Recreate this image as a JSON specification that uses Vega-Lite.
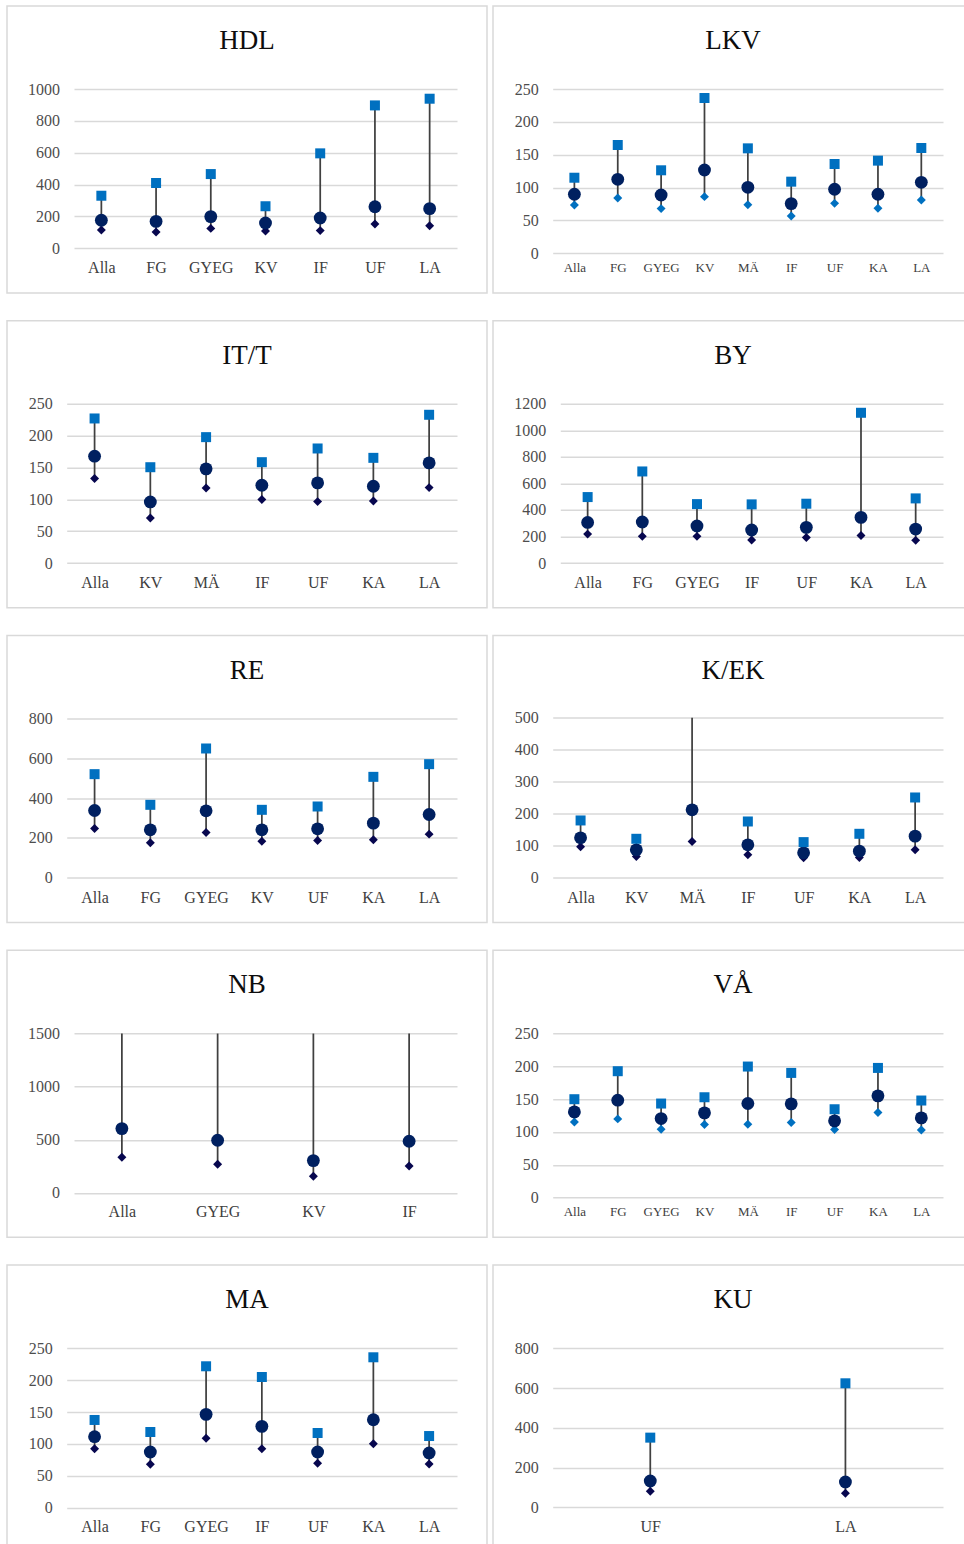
{
"$schema": "https://vega.github.io/schema/vega-lite/v6.json",
"padding": {"left": 6, "top": 5, "right": 0, "bottom": 0},
"background": "white",
"data": {"values": [
{"panel":"HDL","cat":"Alla","low":115,"mid":176,"high":330},
{"panel":"HDL","cat":"FG","low":102,"mid":169,"high":410},
{"panel":"HDL","cat":"GYEG","low":125,"mid":199,"high":466},
{"panel":"HDL","cat":"KV","low":109,"mid":159,"high":264},
{"panel":"HDL","cat":"IF","low":111,"mid":190,"high":596},
{"panel":"HDL","cat":"UF","low":153,"mid":261,"high":897},
{"panel":"HDL","cat":"LA","low":142,"mid":249,"high":939},
{"panel":"LKV","cat":"Alla","low":73.5,"mid":89.8,"high":115},
{"panel":"LKV","cat":"FG","low":84.2,"mid":112.6,"high":164.8},
{"panel":"LKV","cat":"GYEG","low":68,"mid":88.7,"high":126.3},
{"panel":"LKV","cat":"KV","low":86.2,"mid":126.8,"high":236.3},
{"panel":"LKV","cat":"MÄ","low":74,"mid":100.4,"high":159.7},
{"panel":"LKV","cat":"IF","low":56.8,"mid":75.6,"high":109},
{"panel":"LKV","cat":"UF","low":76,"mid":97.4,"high":135.9},
{"panel":"LKV","cat":"KA","low":68.5,"mid":89.8,"high":141},
{"panel":"LKV","cat":"LA","low":81.1,"mid":108,"high":160.2},
{"panel":"IT/T","cat":"Alla","low":132.6,"mid":167.7,"high":226.9},
{"panel":"IT/T","cat":"KV","low":70.8,"mid":95.9,"high":150.4},
{"panel":"IT/T","cat":"MÄ","low":117.9,"mid":147.8,"high":197.6},
{"panel":"IT/T","cat":"IF","low":99.6,"mid":122.1,"high":158.3},
{"panel":"IT/T","cat":"UF","low":96.4,"mid":125.8,"high":179.8},
{"panel":"IT/T","cat":"KA","low":97.5,"mid":120.5,"high":165.1},
{"panel":"IT/T","cat":"LA","low":118.4,"mid":157.2,"high":232.7},
{"panel":"BY","cat":"Alla","low":218,"mid":306,"high":497},
{"panel":"BY","cat":"FG","low":201,"mid":309,"high":690},
{"panel":"BY","cat":"GYEG","low":201,"mid":279,"high":444},
{"panel":"BY","cat":"IF","low":173,"mid":249,"high":442},
{"panel":"BY","cat":"UF","low":193,"mid":269,"high":447},
{"panel":"BY","cat":"KA","low":208,"mid":344,"high":1132},
{"panel":"BY","cat":"LA","low":171,"mid":256,"high":487},
{"panel":"RE","cat":"Alla","low":247.7,"mid":338,"high":520.5},
{"panel":"RE","cat":"FG","low":175.7,"mid":241,"high":366.5},
{"panel":"RE","cat":"GYEG","low":227.6,"mid":336.4,"high":649.4},
{"panel":"RE","cat":"KV","low":184,"mid":241,"high":341.4},
{"panel":"RE","cat":"UF","low":187.4,"mid":246,"high":358.1},
{"panel":"RE","cat":"KA","low":190.8,"mid":274.5,"high":507},
{"panel":"RE","cat":"LA","low":219.2,"mid":318,"high":570.7},
{"panel":"K/EK","cat":"Alla","low":96.9,"mid":125,"high":179.2},
{"panel":"K/EK","cat":"KV","low":66.7,"mid":87.5,"high":121.9},
{"panel":"K/EK","cat":"MÄ","low":113.5,"mid":212.5,"high":560},
{"panel":"K/EK","cat":"IF","low":71.9,"mid":103.1,"high":176},
{"panel":"K/EK","cat":"UF","low":62.5,"mid":78.1,"high":111.5},
{"panel":"K/EK","cat":"KA","low":63.5,"mid":83.3,"high":137.5},
{"panel":"K/EK","cat":"LA","low":87.5,"mid":130.2,"high":251},
{"panel":"NB","cat":"Alla","low":335.8,"mid":605.6,"high":1900},
{"panel":"NB","cat":"GYEG","low":269.9,"mid":495.8,"high":1800},
{"panel":"NB","cat":"KV","low":156.9,"mid":304.4,"high":1700},
{"panel":"NB","cat":"IF","low":254.2,"mid":486.4,"high":1850},
{"panel":"VÅ","cat":"Alla","low":115.3,"mid":130.6,"high":149.9},
{"panel":"VÅ","cat":"FG","low":119.9,"mid":148.4,"high":192.6},
{"panel":"VÅ","cat":"GYEG","low":104.2,"mid":120.4,"high":143.3},
{"panel":"VÅ","cat":"KV","low":111.3,"mid":129.1,"high":152.9},
{"panel":"VÅ","cat":"MÄ","low":111.8,"mid":143.3,"high":199.7},
{"panel":"VÅ","cat":"IF","low":114.3,"mid":142.8,"high":190},
{"panel":"VÅ","cat":"UF","low":103.7,"mid":116.9,"high":134.6},
{"panel":"VÅ","cat":"KA","low":129.6,"mid":155,"high":197.6},
{"panel":"VÅ","cat":"LA","low":103.1,"mid":121.4,"high":147.9},
{"panel":"MA","cat":"Alla","low":92.6,"mid":111.4,"high":137.6},
{"panel":"MA","cat":"FG","low":68,"mid":87.3,"high":118.7},
{"panel":"MA","cat":"GYEG","low":108.8,"mid":146.4,"high":221.8},
{"panel":"MA","cat":"IF","low":92.6,"mid":127.6,"high":205},
{"panel":"MA","cat":"UF","low":69.6,"mid":87.3,"high":117.2},
{"panel":"MA","cat":"KA","low":100.4,"mid":138,"high":235.9},
{"panel":"MA","cat":"LA","low":68.5,"mid":85.8,"high":112.4},
{"panel":"KU","cat":"UF","low":80.5,"mid":132.5,"high":350.5},
{"panel":"KU","cat":"LA","low":70.4,"mid":127.5,"high":623.9}
]},
"spacing": 25.75,
"vconcat": [
{"spacing": 4, "hconcat": [
{"title": "HDL", "width": 480, "height": 287,
 "transform": [{"filter": "datum.panel === 'HDL'"}],
 "encoding": {"x": {"field": "cat", "type": "nominal", "title": null, "scale": {"type": "point", "domain": ["Alla","FG","GYEG","KV","IF","UF","LA"], "range": [67, 450], "padding": 0.5}, "axis": {"labelFontSize": 16, "offset": -25.5}}},
 "layer": [
  {"mark": {"type": "rule", "color": "#404040", "strokeWidth": 1.75},
   "encoding": {"y": {"field": "low", "type": "quantitative", "title": null, "scale": {"domain": [0, 1000], "range": [242.3, 83], "clamp": true, "nice": false, "zero": false}, "axis": {"values": [0,200,400,600,800,1000], "offset": -67, "format": "d"}}, "y2": {"field": "high"}}},
  {"mark": {"type": "point", "shape": "diamond", "size": 80, "color": "#07074f"}, "encoding": {"y": {"field": "low", "type": "quantitative", "title": null}}},
  {"mark": {"type": "point", "shape": "circle", "size": 165, "color": "#002060"}, "encoding": {"y": {"field": "mid", "type": "quantitative", "title": null}}},
  {"transform": [{"filter": "datum.high <= 1000"}], "mark": {"type": "point", "shape": "square", "size": 100, "color": "#0070c0"}, "encoding": {"y": {"field": "high", "type": "quantitative", "title": null}}}
 ]},
{"title": "LKV", "width": 480, "height": 287,
 "transform": [{"filter": "datum.panel === 'LKV'"}],
 "encoding": {"x": {"field": "cat", "type": "nominal", "title": null, "scale": {"type": "point", "domain": ["Alla","FG","GYEG","KV","MÄ","IF","UF","KA","LA"], "range": [59.7, 450], "padding": 0.5}, "axis": {"labelFontSize": 13, "offset": -25.5}}},
 "layer": [
  {"mark": {"type": "rule", "color": "#404040", "strokeWidth": 1.75},
   "encoding": {"y": {"field": "low", "type": "quantitative", "title": null, "scale": {"domain": [0, 250], "range": [247.3, 83], "clamp": true, "nice": false, "zero": false}, "axis": {"values": [0,50,100,150,200,250], "offset": -59.7, "format": "d"}}, "y2": {"field": "high"}}},
  {"mark": {"type": "point", "shape": "diamond", "size": 80, "color": "#0070c0"}, "encoding": {"y": {"field": "low", "type": "quantitative", "title": null}}},
  {"mark": {"type": "point", "shape": "circle", "size": 165, "color": "#002060"}, "encoding": {"y": {"field": "mid", "type": "quantitative", "title": null}}},
  {"transform": [{"filter": "datum.high <= 250"}], "mark": {"type": "point", "shape": "square", "size": 100, "color": "#0070c0"}, "encoding": {"y": {"field": "high", "type": "quantitative", "title": null}}}
 ]}
]},
{"spacing": 4, "hconcat": [
{"title": "IT/T", "width": 480, "height": 287,
 "transform": [{"filter": "datum.panel === 'IT/T'"}],
 "encoding": {"x": {"field": "cat", "type": "nominal", "title": null, "scale": {"type": "point", "domain": ["Alla","KV","MÄ","IF","UF","KA","LA"], "range": [59.7, 450], "padding": 0.5}, "axis": {"labelFontSize": 16, "offset": -25.5}}},
 "layer": [
  {"mark": {"type": "rule", "color": "#404040", "strokeWidth": 1.75},
   "encoding": {"y": {"field": "low", "type": "quantitative", "title": null, "scale": {"domain": [0, 250], "range": [242.3, 83], "clamp": true, "nice": false, "zero": false}, "axis": {"values": [0,50,100,150,200,250], "offset": -59.7, "format": "d"}}, "y2": {"field": "high"}}},
  {"mark": {"type": "point", "shape": "diamond", "size": 80, "color": "#07074f"}, "encoding": {"y": {"field": "low", "type": "quantitative", "title": null}}},
  {"mark": {"type": "point", "shape": "circle", "size": 165, "color": "#002060"}, "encoding": {"y": {"field": "mid", "type": "quantitative", "title": null}}},
  {"transform": [{"filter": "datum.high <= 250"}], "mark": {"type": "point", "shape": "square", "size": 100, "color": "#0070c0"}, "encoding": {"y": {"field": "high", "type": "quantitative", "title": null}}}
 ]},
{"title": "BY", "width": 480, "height": 287,
 "transform": [{"filter": "datum.panel === 'BY'"}],
 "encoding": {"x": {"field": "cat", "type": "nominal", "title": null, "scale": {"type": "point", "domain": ["Alla","FG","GYEG","IF","UF","KA","LA"], "range": [67.3, 450], "padding": 0.5}, "axis": {"labelFontSize": 16, "offset": -25.5}}},
 "layer": [
  {"mark": {"type": "rule", "color": "#404040", "strokeWidth": 1.75},
   "encoding": {"y": {"field": "low", "type": "quantitative", "title": null, "scale": {"domain": [0, 1200], "range": [242.3, 83], "clamp": true, "nice": false, "zero": false}, "axis": {"values": [0,200,400,600,800,1000,1200], "offset": -67.3, "format": "d"}}, "y2": {"field": "high"}}},
  {"mark": {"type": "point", "shape": "diamond", "size": 80, "color": "#07074f"}, "encoding": {"y": {"field": "low", "type": "quantitative", "title": null}}},
  {"mark": {"type": "point", "shape": "circle", "size": 165, "color": "#002060"}, "encoding": {"y": {"field": "mid", "type": "quantitative", "title": null}}},
  {"transform": [{"filter": "datum.high <= 1200"}], "mark": {"type": "point", "shape": "square", "size": 100, "color": "#0070c0"}, "encoding": {"y": {"field": "high", "type": "quantitative", "title": null}}}
 ]}
]},
{"spacing": 4, "hconcat": [
{"title": "RE", "width": 480, "height": 287,
 "transform": [{"filter": "datum.panel === 'RE'"}],
 "encoding": {"x": {"field": "cat", "type": "nominal", "title": null, "scale": {"type": "point", "domain": ["Alla","FG","GYEG","KV","UF","KA","LA"], "range": [59.7, 450], "padding": 0.5}, "axis": {"labelFontSize": 16, "offset": -25.5}}},
 "layer": [
  {"mark": {"type": "rule", "color": "#404040", "strokeWidth": 1.75},
   "encoding": {"y": {"field": "low", "type": "quantitative", "title": null, "scale": {"domain": [0, 800], "range": [242.3, 83], "clamp": true, "nice": false, "zero": false}, "axis": {"values": [0,200,400,600,800], "offset": -59.7, "format": "d"}}, "y2": {"field": "high"}}},
  {"mark": {"type": "point", "shape": "diamond", "size": 80, "color": "#07074f"}, "encoding": {"y": {"field": "low", "type": "quantitative", "title": null}}},
  {"mark": {"type": "point", "shape": "circle", "size": 165, "color": "#002060"}, "encoding": {"y": {"field": "mid", "type": "quantitative", "title": null}}},
  {"transform": [{"filter": "datum.high <= 800"}], "mark": {"type": "point", "shape": "square", "size": 100, "color": "#0070c0"}, "encoding": {"y": {"field": "high", "type": "quantitative", "title": null}}}
 ]},
{"title": "K/EK", "width": 480, "height": 287,
 "transform": [{"filter": "datum.panel === 'K/EK'"}],
 "encoding": {"x": {"field": "cat", "type": "nominal", "title": null, "scale": {"type": "point", "domain": ["Alla","KV","MÄ","IF","UF","KA","LA"], "range": [59.7, 450], "padding": 0.5}, "axis": {"labelFontSize": 16, "offset": -25.5}}},
 "layer": [
  {"mark": {"type": "rule", "color": "#404040", "strokeWidth": 1.75},
   "encoding": {"y": {"field": "low", "type": "quantitative", "title": null, "scale": {"domain": [0, 500], "range": [242.3, 82.3], "clamp": true, "nice": false, "zero": false}, "axis": {"values": [0,100,200,300,400,500], "offset": -59.7, "format": "d"}}, "y2": {"field": "high"}}},
  {"mark": {"type": "point", "shape": "diamond", "size": 80, "color": "#07074f"}, "encoding": {"y": {"field": "low", "type": "quantitative", "title": null}}},
  {"mark": {"type": "point", "shape": "circle", "size": 165, "color": "#002060"}, "encoding": {"y": {"field": "mid", "type": "quantitative", "title": null}}},
  {"transform": [{"filter": "datum.high <= 500"}], "mark": {"type": "point", "shape": "square", "size": 100, "color": "#0070c0"}, "encoding": {"y": {"field": "high", "type": "quantitative", "title": null}}}
 ]}
]},
{"spacing": 4, "hconcat": [
{"title": "NB", "width": 480, "height": 287,
 "transform": [{"filter": "datum.panel === 'NB'"}],
 "encoding": {"x": {"field": "cat", "type": "nominal", "title": null, "scale": {"type": "point", "domain": ["Alla","GYEG","KV","IF"], "range": [67, 450], "padding": 0.5}, "axis": {"labelFontSize": 16, "offset": -25.5}}},
 "layer": [
  {"mark": {"type": "rule", "color": "#404040", "strokeWidth": 1.75},
   "encoding": {"y": {"field": "low", "type": "quantitative", "title": null, "scale": {"domain": [0, 1500], "range": [242.7, 83.3], "clamp": true, "nice": false, "zero": false}, "axis": {"values": [0,500,1000,1500], "offset": -67, "format": "d"}}, "y2": {"field": "high"}}},
  {"mark": {"type": "point", "shape": "diamond", "size": 80, "color": "#07074f"}, "encoding": {"y": {"field": "low", "type": "quantitative", "title": null}}},
  {"mark": {"type": "point", "shape": "circle", "size": 165, "color": "#002060"}, "encoding": {"y": {"field": "mid", "type": "quantitative", "title": null}}},
  {"transform": [{"filter": "datum.high <= 1500"}], "mark": {"type": "point", "shape": "square", "size": 100, "color": "#0070c0"}, "encoding": {"y": {"field": "high", "type": "quantitative", "title": null}}}
 ]},
{"title": "VÅ", "width": 480, "height": 287,
 "transform": [{"filter": "datum.panel === 'VÅ'"}],
 "encoding": {"x": {"field": "cat", "type": "nominal", "title": null, "scale": {"type": "point", "domain": ["Alla","FG","GYEG","KV","MÄ","IF","UF","KA","LA"], "range": [59.7, 450], "padding": 0.5}, "axis": {"labelFontSize": 13, "offset": -25.5}}},
 "layer": [
  {"mark": {"type": "rule", "color": "#404040", "strokeWidth": 1.75},
   "encoding": {"y": {"field": "low", "type": "quantitative", "title": null, "scale": {"domain": [0, 250], "range": [247.3, 83.3], "clamp": true, "nice": false, "zero": false}, "axis": {"values": [0,50,100,150,200,250], "offset": -59.7, "format": "d"}}, "y2": {"field": "high"}}},
  {"mark": {"type": "point", "shape": "diamond", "size": 80, "color": "#0070c0"}, "encoding": {"y": {"field": "low", "type": "quantitative", "title": null}}},
  {"mark": {"type": "point", "shape": "circle", "size": 165, "color": "#002060"}, "encoding": {"y": {"field": "mid", "type": "quantitative", "title": null}}},
  {"transform": [{"filter": "datum.high <= 250"}], "mark": {"type": "point", "shape": "square", "size": 100, "color": "#0070c0"}, "encoding": {"y": {"field": "high", "type": "quantitative", "title": null}}}
 ]}
]},
{"spacing": 4, "hconcat": [
{"title": "MA", "width": 480, "height": 287,
 "transform": [{"filter": "datum.panel === 'MA'"}],
 "encoding": {"x": {"field": "cat", "type": "nominal", "title": null, "scale": {"type": "point", "domain": ["Alla","FG","GYEG","IF","UF","KA","LA"], "range": [59.7, 450], "padding": 0.5}, "axis": {"labelFontSize": 16, "offset": -25.5}}},
 "layer": [
  {"mark": {"type": "rule", "color": "#404040", "strokeWidth": 1.75},
   "encoding": {"y": {"field": "low", "type": "quantitative", "title": null, "scale": {"domain": [0, 250], "range": [242.7, 83.3], "clamp": true, "nice": false, "zero": false}, "axis": {"values": [0,50,100,150,200,250], "offset": -59.7, "format": "d"}}, "y2": {"field": "high"}}},
  {"mark": {"type": "point", "shape": "diamond", "size": 80, "color": "#07074f"}, "encoding": {"y": {"field": "low", "type": "quantitative", "title": null}}},
  {"mark": {"type": "point", "shape": "circle", "size": 165, "color": "#002060"}, "encoding": {"y": {"field": "mid", "type": "quantitative", "title": null}}},
  {"transform": [{"filter": "datum.high <= 250"}], "mark": {"type": "point", "shape": "square", "size": 100, "color": "#0070c0"}, "encoding": {"y": {"field": "high", "type": "quantitative", "title": null}}}
 ]},
{"title": "KU", "width": 480, "height": 287,
 "transform": [{"filter": "datum.panel === 'KU'"}],
 "encoding": {"x": {"field": "cat", "type": "nominal", "title": null, "scale": {"type": "point", "domain": ["UF","LA"], "range": [59.7, 450], "padding": 0.5}, "axis": {"labelFontSize": 16, "offset": -25.5}}},
 "layer": [
  {"mark": {"type": "rule", "color": "#404040", "strokeWidth": 1.75},
   "encoding": {"y": {"field": "low", "type": "quantitative", "title": null, "scale": {"domain": [0, 800], "range": [242.3, 83.3], "clamp": true, "nice": false, "zero": false}, "axis": {"values": [0,200,400,600,800], "offset": -59.7, "format": "d"}}, "y2": {"field": "high"}}},
  {"mark": {"type": "point", "shape": "diamond", "size": 80, "color": "#07074f"}, "encoding": {"y": {"field": "low", "type": "quantitative", "title": null}}},
  {"mark": {"type": "point", "shape": "circle", "size": 165, "color": "#002060"}, "encoding": {"y": {"field": "mid", "type": "quantitative", "title": null}}},
  {"transform": [{"filter": "datum.high <= 800"}], "mark": {"type": "point", "shape": "square", "size": 100, "color": "#0070c0"}, "encoding": {"y": {"field": "high", "type": "quantitative", "title": null}}}
 ]}
]}
],
"config": {
 "view": {"stroke": "#d9d9d9", "strokeWidth": 1.5, "fill": "white"},
 "point": {"filled": true, "opacity": 1},
 "title": {"font": "Liberation Serif", "fontSize": 27, "fontWeight": "normal", "color": "#0d0d0d", "anchor": "middle", "frame": "group", "offset": -49, "baseline": "middle"},
 "axisX": {"labelAngle": 0, "domain": false, "ticks": false, "grid": false, "labelPadding": 0, "labelBaseline": "middle", "labelFont": "Liberation Serif", "labelColor": "#404040"},
 "axisY": {"domain": false, "ticks": false, "grid": true, "gridColor": "#d9d9d9", "gridWidth": 1.5, "labelPadding": 14.5, "labelFont": "Liberation Serif", "labelFontSize": 16, "labelColor": "#4d4d4d"}
}
}
